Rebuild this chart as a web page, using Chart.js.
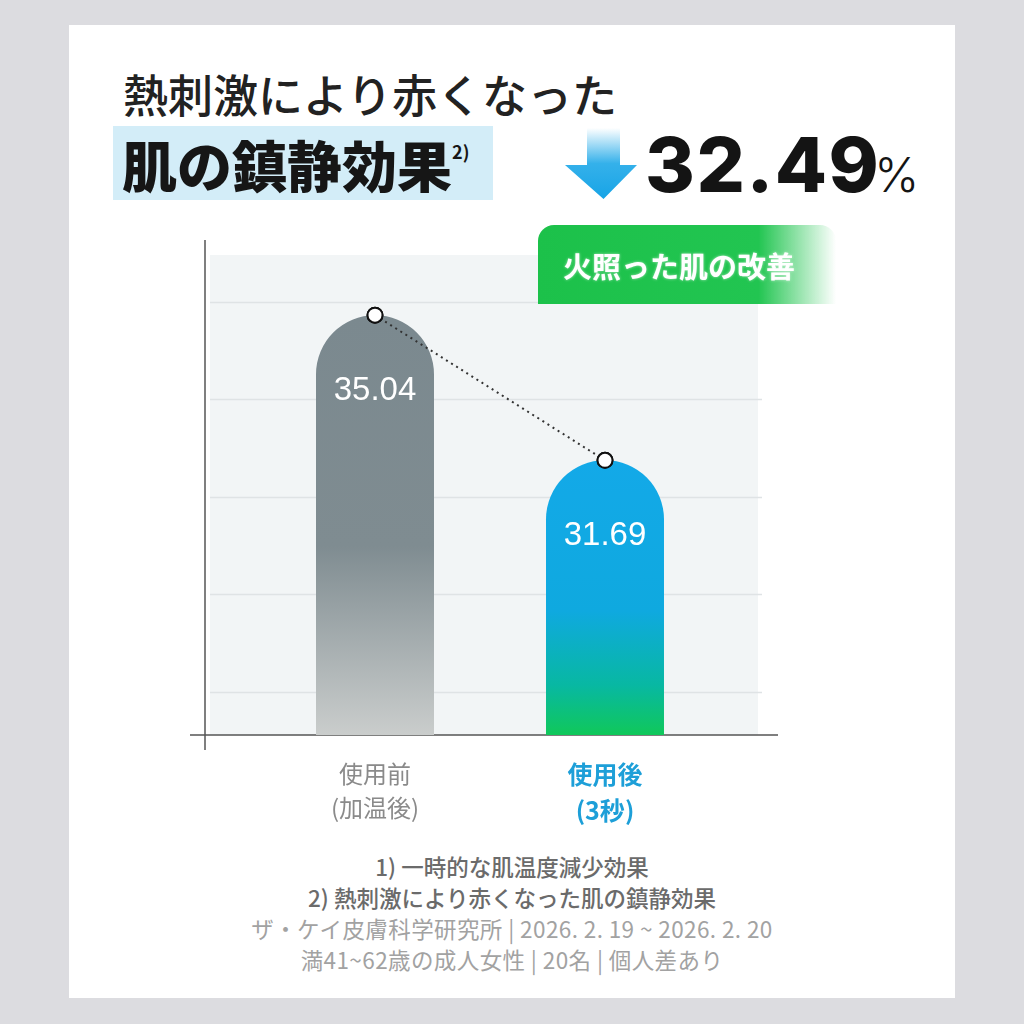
<!DOCTYPE html>
<html>
<head>
<meta charset="utf-8">
<script src="https://cdn.jsdelivr.net/npm/chart.js@4.4.1/dist/chart.umd.min.js"></script>
<style>
  body { margin: 0; width: 1024px; height: 1024px; background: #dcdce0; position: relative; overflow: hidden;
         font-family: "Noto Sans CJK JP", "Noto Sans", sans-serif; }
  .card { position: absolute; left: 69px; top: 25px; width: 886px; height: 973px; background: #fff; }
  .abs { position: absolute; white-space: nowrap; }
  #t1 { left: 123px; top: 67px; font-size: 45px; line-height: 54px; font-weight: 500; color: #222; }
  #hl { left: 113px; top: 126px; width: 380px; height: 74px; background: #d3edf8; }
  #t2 { left: 122px; top: 119px; font-size: 55px; line-height: 64px; font-weight: 900; color: #161616; }
  #t2 sup { font-size: 18px; font-weight: 700; vertical-align: 28px; margin-left: 0px; }
  #arrow { left: 563px; top: 128px; }
  #pct { left: 645px; top: 126px; font-family: Inter, "Liberation Sans", sans-serif; font-size: 76px; line-height: 76px;
         font-weight: 800; color: #141414; letter-spacing: 1.5px; }
  #pct span { font-size: 48px; font-weight: 300; margin-left: -6px; letter-spacing: 0; }
  #badge { left: 538px; top: 225px; width: 298px; height: 79px; border-radius: 16px 16px 0 0; z-index: 2;
           background: linear-gradient(to right, #1cc14a 0%, #22c551 74%, rgba(255,255,255,0) 100%); }
  #badge div { position: absolute; left: 25px; top: 20px; font-size: 29px; line-height: 40px; font-weight: 700;
               color: #fff; text-shadow: 0 0 3px rgba(255,255,255,0.6); }
  #wrap { position: absolute; left: 180px; top: 230px; width: 620px; height: 610px; z-index: 1; }
  #notes { left: 69px; top: 851px; width: 886px; text-align: center; font-size: 22.5px; line-height: 31px; }
  #notes .a { color: #6b6b6b; font-weight: 500; }
  #notes .b { color: #a2a2a2; font-weight: 400; letter-spacing: 0.4px; }
</style>
</head>
<body>
<div class="card"></div>
<div class="abs" id="t1">熱刺激により赤くなった</div>
<div class="abs" id="hl"></div>
<div class="abs" id="t2">肌の鎮静効果<sup>2)</sup></div>
<svg class="abs" id="arrow" width="76" height="72" viewBox="0 0 76 72">
  <defs>
    <linearGradient id="ag" x1="0" y1="0" x2="0" y2="1">
      <stop offset="0" stop-color="#1ea8e8" stop-opacity="0"/>
      <stop offset="0.5" stop-color="#1ea8e8" stop-opacity="0.9"/>
      <stop offset="1" stop-color="#17a4e6"/>
    </linearGradient>
  </defs>
  <path d="M24 0 H57 V37 H74 L40.5 71 L2 37 H24 Z" fill="url(#ag)"/>
</svg>
<div class="abs" id="pct">32.49<span>%</span></div>
<div class="abs" id="badge"><div>火照った肌の改善</div></div>
<div id="wrap"><canvas id="mycanvas"></canvas></div>
<div class="abs" id="notes">
  <div class="a">1) 一時的な肌温度減少効果</div>
  <div class="a">2) 熱刺激により赤くなった肌の鎮静効果</div>
  <div class="b">ザ・ケイ皮膚科学研究所 | 2026. 2. 19 ~ 2026. 2. 20</div>
  <div class="b">満41~62歳の成人女性 | 20名 | 個人差あり</div>
</div>
<script>
// data
var categories = [['使用前', '(加温後)'], ['使用後', '(3秒)']];
var temps = [35.04, 31.69];
var gridValues = [26.35, 28.6, 30.85, 33.1, 35.35];
var yMin = 25.35, yMax = 36.43;

var labelColors = ['#8a8a8a', '#1d9fd8'];
var gradStops = [
  [[0, '#7b898f'], [0.55, '#7f8c91'], [1, '#cacdcc']],
  [[0, '#13a9e8'], [0.55, '#0fa9df'], [0.82, '#08b8a2'], [1, '#10c85a']]
];

function barFill(c) {
  var chart = c.chart, area = chart.chartArea;
  if (!area || c.type !== 'data') return gradStops[c.dataIndex][0][1];
  var top = chart.scales.y.getPixelForValue(temps[c.dataIndex]);
  var g = chart.ctx.createLinearGradient(0, top, 0, area.bottom);
  gradStops[c.dataIndex].forEach(function(s){ g.addColorStop(s[0], s[1]); });
  return g;
}

var backdrop = {
  id: 'backdrop',
  beforeDatasetsDraw: function(chart) {
    var ctx = chart.ctx, a = chart.chartArea, y = chart.scales.y;
    var left = a.left - 50, right = a.right + 38;
    ctx.save();
    ctx.fillStyle = '#f2f5f6';
    ctx.fillRect(left, a.top, right - left, a.bottom - a.top);
    ctx.strokeStyle = '#dfe3e5';
    ctx.lineWidth = 1.5;
    gridValues.forEach(function(v){
      var py = Math.round(y.getPixelForValue(v)) + 0.5;
      ctx.beginPath(); ctx.moveTo(left, py); ctx.lineTo(right + 4, py); ctx.stroke();
    });
    ctx.strokeStyle = '#555';
    ctx.lineWidth = 1.5;
    ctx.beginPath();
    ctx.moveTo(a.left - 55, a.top - 15); ctx.lineTo(a.left - 55, a.bottom + 15);
    ctx.moveTo(a.left - 70, a.bottom); ctx.lineTo(a.right + 58, a.bottom);
    ctx.stroke();
    ctx.restore();
  },
  afterDatasetsDraw: function(chart) {
    var ctx = chart.ctx, meta = chart.getDatasetMeta(0);
    ctx.save();
    ctx.fillStyle = '#fff';
    ctx.font = '33px "Liberation Sans", Arial, sans-serif';
    ctx.textAlign = 'center';
    ctx.textBaseline = 'middle';
    meta.data.forEach(function(bar, i){
      ctx.fillText(temps[i].toFixed(2), bar.x, bar.y + 76);
    });
    ctx.restore();
    // keep points above labels
    chart.getDatasetMeta(1).data.forEach(function(p){ p.draw(ctx, chart.chartArea); });
  }
};

var chartdata = {
  labels: categories,
  datasets: [
    {
      type: 'bar',
      data: temps,
      order: 1,
      backgroundColor: barFill,
      borderWidth: 0,
      borderSkipped: 'bottom',
      borderRadius: { topLeft: 60, topRight: 60, bottomLeft: 0, bottomRight: 0 },
      barPercentage: 0.513,
      categoryPercentage: 1.0
    },
    {
      type: 'line',
      data: temps,
      order: 0,
      fill: false,
      borderColor: '#333',
      borderWidth: 2,
      borderDash: [2, 4],
      pointRadius: 7.5,
      pointBorderWidth: 2,
      pointBackgroundColor: '#fff',
      pointBorderColor: '#111'
    }
  ]
};

var LineGraph = new Chart(document.getElementById('mycanvas'), {
  type: 'bar',
  data: chartdata,
  plugins: [backdrop],
  options: {
    responsive: true,
    maintainAspectRatio: false,
    animation: false,
    layout: { padding: { left: 80, right: 80, top: 25, bottom: 0 } },
    plugins: { legend: { display: false }, tooltip: { enabled: false } },
    scales: {
      x: {
        grid: { display: false, drawTicks: false },
        border: { display: false },
        afterFit: function(s){ s.height = 105; },
        ticks: {
          padding: 21,
          color: function(c){ return labelColors[c.index]; },
          font: function(c){
            return { family: '"Noto Sans CJK JP", sans-serif', size: c.index === 1 ? 25 : 24, weight: c.index === 1 ? '700' : '400', lineHeight: 1.45 };
          }
        }
      },
      y: { display: false, min: yMin, max: yMax }
    }
  }
});
</script>
</body>
</html>
